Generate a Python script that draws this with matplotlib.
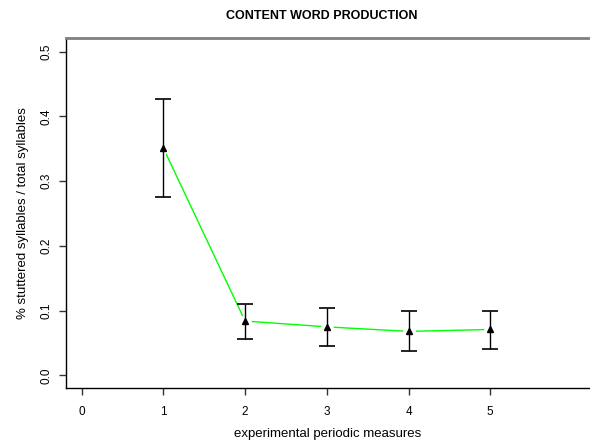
import matplotlib.pyplot as plt
import numpy as np

plt.rcParams['font.family'] = ['Liberation Sans', 'DejaVu Sans']

# data
measures = [1, 2, 3, 4, 5]
means = [0.351, 0.084, 0.075, 0.068, 0.071]
upper = [0.427, 0.111, 0.104, 0.099, 0.099]
lower = [0.275, 0.056, 0.045, 0.037, 0.041]
x_ticks = [0, 1, 2, 3, 4, 5]
y_ticks = [0.0, 0.1, 0.2, 0.3, 0.4, 0.5]

means = np.array(means)
err = [means - np.array(lower), np.array(upper) - means]

fig = plt.figure(figsize=(5.9, 4.41), dpi=100)
ax = fig.add_axes([0.112, 0.12, 0.888, 0.794])

ax.plot(measures, means, color='#00ff00', lw=1, zorder=2)
# gap around the points like R's type="b"
ax.plot(measures, means, 'o', color='white', ms=8, zorder=3)
ax.errorbar(measures, means, yerr=err, fmt='none', ecolor='black',
            elinewidth=1, capsize=6, capthick=1.2, zorder=4)
ax.plot(measures, means, '^', color='black', ms=4.5, zorder=5)

ax.set_xlim(-0.19, 6.22)
ax.set_ylim(-0.0195, 0.521)
ax.set_xticks(x_ticks)
ax.set_yticks(y_ticks)
ax.set_yticklabels([f'{v:.1f}' for v in y_ticks], rotation=90, va='center')

ax.spines['right'].set_visible(False)
ax.spines['top'].set_color('#808080')
ax.spines['top'].set_linewidth(2)
ax.spines['left'].set_linewidth(1)
ax.spines['bottom'].set_linewidth(1)
ax.tick_params(direction='out', length=5, width=1, labelsize=8.5, color='#333333')
ax.tick_params(axis='x', pad=8)
ax.tick_params(axis='y', pad=5)

ax.set_xlabel('experimental periodic measures', fontsize=9.5, labelpad=7)
ax.set_ylabel('% stuttered syllables / total syllables', fontsize=9.5, labelpad=8)
fig.text(0.545, 0.963, 'CONTENT WORD PRODUCTION', ha='center', va='center',
         fontsize=9, fontweight='bold')

fig.savefig('out.png', dpi=100)
